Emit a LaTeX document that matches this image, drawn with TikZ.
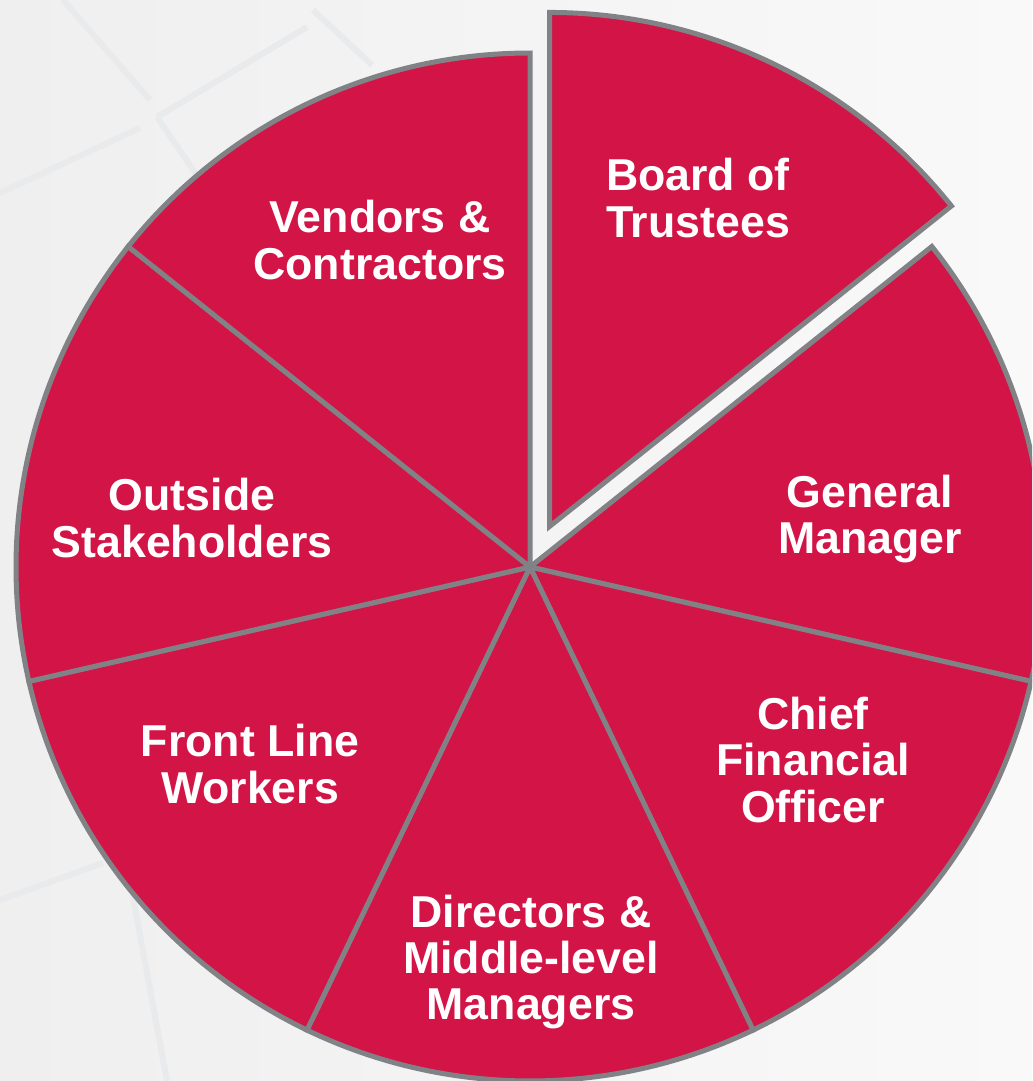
\documentclass[tikz,border=0pt]{standalone}
\usepackage{fontspec}
\setmainfont{Liberation Sans}
\usetikzlibrary{calc}
\begin{document}
\definecolor{slicered}{RGB}{210,21,70}
\definecolor{edgegray}{RGB}{128,130,133}
\definecolor{bgleft}{RGB}{239,239,240}
\definecolor{bgright}{RGB}{249,249,250}
\definecolor{bgline}{RGB}{233,234,236}
\tikzset{
  slice/.style={fill=slicered, draw=edgegray, line width=3.75pt, line join=miter},
  label/.style={text=white, font=\bfseries\fontsize{33.5}{34.8}\selectfont, align=center, inner sep=0pt},
  faint/.style={draw=bgline, line width=4.5pt},
}
\begin{tikzpicture}[x=0.75pt,y=0.75pt]
  \useasboundingbox (0,0) rectangle (1032,-1081);
  \clip (0,0) rectangle (1032,-1081);
  % soft background with a faint line pattern
  \fill[left color=bgleft, right color=bgright] (0,0) rectangle (1032,-1081);
  \draw[faint] (63,0) -- (150,-100);
  \draw[faint] (307,-27) -- (157,-117);
  \draw[faint] (0,-193) -- (140,-128);
  \draw[faint] (157,-117) -- (200,-180);
  \draw[faint] (313,-10) -- (372,-65);
  \draw[faint] (0,-900) -- (103,-863);
  \draw[faint] (133,-897) -- (167,-1081);

  % pie: seven equal slices, first one pulled out
  \coordinate (c) at (530,-567);
  \def\rad{514}
  \def\stp{51.4286}
  \foreach \i in {1,...,6} {
    \pgfmathsetmacro{\a}{90-\i*\stp}
    \pgfmathsetmacro{\b}{90-(\i+1)*\stp}
    \draw[slice] (c) -- ++(\a:\rad) arc[start angle=\a, end angle=\b, radius=\rad] -- cycle;
  }
  \coordinate (cb) at ($(c)+(64.29:45)$);
  \draw[slice] (cb) -- ++(90:\rad) arc[start angle=90, end angle=38.5714, radius=\rad] -- cycle;

  % slice labels
  \node[label] (board) at (698,-198) {Board of\\Trustees};
  \node[label] (gm) at (870,-519) {General\\Manager};
  \node[label] (cfo) at (813,-760) {Chief\\Financial\\Officer};
  \node[label] (dir) at (531,-962) {Directors \&\\Middle-level\\Managers};
  \node[label] (flw) at (250,-764) {Front Line\\Workers};
  \node[label] (out) at (192,-518) {Outside\\Stakeholders};
  \node[label] (ven) at (380,-240) {Vendors \&\\Contractors};
\end{tikzpicture}
\end{document}
